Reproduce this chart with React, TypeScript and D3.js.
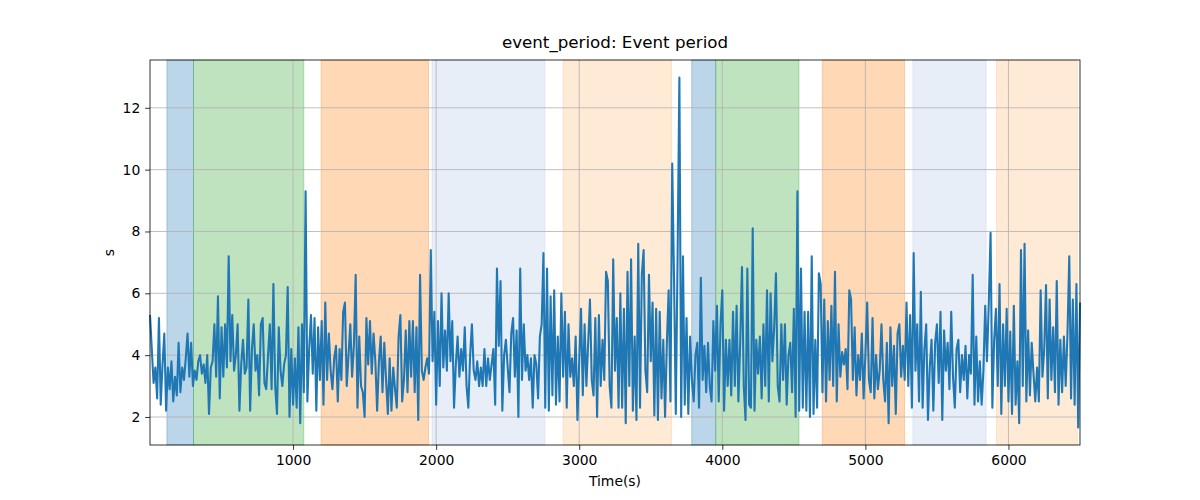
// @ts-nocheck
import * as d3 from "d3";
import React, { useRef, useEffect } from "react";

// seconds between consecutive samples
const sampleStep = 12.5;

// event period (s) in ~700 s chunks
const periodChunk1 = [5.3, 4.2, 3.1, 3.6, 2.6, 5.2, 2.4, 3.7, 4.7, 2.2, 3.6, 2.9, 3.8, 2.5, 3.3, 2.7, 4.4, 2.8, 3.6, 3.2, 3.9, 4.7, 3.3, 4.4, 3.0, 3.5, 3.2, 3.8, 4.0, 3.4, 3.7, 3.1, 4.0, 2.1, 3.6, 3.8, 5.0, 3.3, 5.9, 2.6, 4.9, 3.3, 5.0, 3.6, 7.2, 3.8, 5.3, 3.5, 4.0, 5.0, 2.2, 3.7, 4.5, 3.4, 3.6, 5.8, 2.2, 4.2];
const periodChunk2 = [5.0, 3.5, 4.0, 2.7, 5.0, 5.2, 3.1, 2.9, 4.0, 5.0, 2.9, 6.3, 3.0, 2.1, 4.9, 3.5, 3.0, 3.7, 4.0, 6.2, 2.0, 4.2, 2.4, 3.9, 2.3, 4.9, 1.8, 5.0, 2.8, 9.3, 2.5, 4.2, 5.3, 3.4, 5.2, 2.2, 4.9, 3.2, 5.1, 2.4, 5.7, 3.2, 4.7, 3.5, 2.9, 3.9, 4.3, 2.5, 4.2, 3.2, 5.4, 5.7, 3.0, 4.0, 5.0, 3.3, 4.3, 6.6];
const periodChunk3 = [2.3, 4.6, 3.0, 2.8, 2.0, 5.2, 3.7, 5.1, 3.4, 4.7, 3.8, 2.2, 3.8, 4.6, 2.8, 4.4, 3.2, 2.1, 3.9, 2.2, 3.6, 2.9, 2.3, 4.6, 5.3, 2.5, 3.2, 4.8, 2.8, 5.1, 3.3, 5.1, 2.8, 4.9, 1.9, 6.6, 3.5, 3.2, 3.6, 3.9, 3.4, 7.4, 3.8, 5.4, 2.4, 5.1, 3.0, 6.0, 3.6, 4.8, 3.5, 6.0, 3.8, 5.1, 2.3, 3.7, 4.6, 3.3];
const periodChunk4 = [4.2, 3.5, 4.9, 3.0, 2.3, 4.0, 5.0, 3.5, 3.2, 3.8, 3.0, 3.6, 3.0, 4.2, 3.0, 3.9, 3.2, 3.7, 4.2, 2.4, 6.8, 4.3, 6.4, 2.2, 4.0, 4.5, 3.6, 2.8, 4.7, 5.2, 3.3, 4.8, 2.0, 6.8, 3.2, 5.0, 3.5, 4.0, 3.2, 3.9, 2.3, 4.0, 3.7, 2.6, 4.6, 5.0, 7.3, 2.3, 6.8, 2.2, 5.9, 2.7, 6.1, 2.4, 4.6, 2.5, 6.0, 3.3];
const periodChunk5 = [5.4, 2.3, 5.0, 3.3, 3.9, 3.0, 4.6, 1.9, 3.8, 5.5, 2.7, 5.0, 3.0, 4.4, 5.8, 3.2, 2.7, 5.2, 2.0, 5.3, 3.0, 4.5, 3.2, 6.7, 6.4, 3.0, 2.3, 7.1, 3.5, 5.2, 2.3, 6.0, 2.3, 5.5, 1.8, 6.7, 3.0, 7.1, 2.2, 4.6, 1.9, 7.6, 2.3, 6.6, 7.4, 3.5, 2.8, 6.6, 3.8, 5.7, 2.05, 5.5, 1.9, 5.4, 2.6, 4.5, 2.0, 4.4];
const periodChunk6 = [6.1, 2.5, 10.2, 6.5, 2.1, 7.2, 12.98, 2.0, 7.2, 2.4, 5.2, 2.1, 4.6, 3.2, 2.5, 4.0, 4.4, 2.3, 6.5, 3.2, 4.3, 2.8, 4.4, 3.0, 2.5, 5.1, 3.5, 5.6, 2.5, 5.0, 6.1, 2.2, 4.5, 3.0, 4.5, 2.7, 5.4, 3.0, 5.6, 2.5, 4.4, 6.85, 3.0, 1.9, 6.8, 2.4, 2.3, 8.1, 2.2, 4.5, 3.4, 4.6, 2.6, 5.0, 3.0, 6.1, 2.5, 6.0];
const periodChunk7 = [3.8, 4.9, 6.65, 3.0, 2.5, 5.0, 3.2, 5.0, 2.4, 4.0, 4.4, 2.8, 5.5, 2.0, 9.3, 2.2, 6.8, 2.3, 5.4, 2.2, 5.4, 2.0, 7.2, 2.1, 4.5, 2.3, 6.65, 6.3, 2.8, 5.8, 2.5, 5.1, 3.2, 5.6, 3.0, 6.7, 2.5, 5.0, 3.3, 4.1, 3.7, 4.2, 2.9, 6.1, 5.8, 3.2, 4.9, 2.7, 4.0, 3.2, 4.7, 2.6, 4.0, 5.7, 3.2, 2.8, 5.2, 2.6];
const periodChunk8 = [4.0, 2.9, 3.5, 5.0, 3.2, 2.5, 4.4, 1.8, 4.9, 3.0, 4.3, 2.1, 4.7, 5.0, 3.3, 4.3, 3.2, 5.7, 3.0, 5.3, 2.3, 7.3, 3.5, 5.0, 2.5, 6.05, 2.3, 4.2, 5.0, 1.9, 3.6, 4.5, 2.2, 4.4, 5.0, 3.1, 5.4, 1.9, 4.8, 3.5, 4.4, 2.9, 5.4, 3.3, 2.3, 4.2, 4.5, 2.8, 4.0, 3.2, 4.3, 2.6, 4.0, 3.4, 6.6, 2.4, 4.6, 2.5];
const periodChunk9 = [3.8, 2.4, 3.5, 5.6, 3.8, 5.7, 7.96, 2.3, 4.5, 5.5, 3.0, 6.3, 2.1, 5.0, 3.0, 5.5, 2.5, 4.76, 2.1, 5.6, 2.4, 3.8, 1.8, 7.4, 3.0, 7.6, 2.5, 4.8, 2.7, 4.4, 3.4, 2.5, 3.6, 2.5, 6.1, 3.3, 4.2, 6.27, 2.6, 5.8, 3.2, 4.9, 2.8, 6.4, 2.4, 4.5, 2.8, 4.6, 3.0, 4.7, 7.2, 2.6, 5.8, 2.4, 6.3, 1.66, 5.7];

const eventPeriod = [
  ...periodChunk1, ...periodChunk2, ...periodChunk3,
  ...periodChunk4, ...periodChunk5, ...periodChunk6,
  ...periodChunk7, ...periodChunk8, ...periodChunk9,
];

// shaded phases
const spanStart = [118, 304, 1196, 1971, 2888, 3786, 3954, 4699, 5332, 5916];
const spanEnd = [304, 1075, 1947, 2760, 3645, 3954, 4536, 5274, 5844, 6481];
const spanColor = ["#1f77b4", "#2ca02c", "#ff7f0e", "#aec7e8", "#ffbb78", "#1f77b4", "#2ca02c", "#ff7f0e", "#aec7e8", "#ffbb78"];

const xTicks = [1000, 2000, 3000, 4000, 5000, 6000];
const yTicks = [2, 4, 6, 8, 10, 12];

export default function App() {
  const svgRef = useRef<SVGSVGElement | null>(null);

  useEffect(() => {
    const width = 1200;
    const height = 500;
    const margin = { top: 60, right: 120, bottom: 55, left: 150 };
    const chartW = width - margin.left - margin.right;
    const chartH = height - margin.top - margin.bottom;
    const font = "DejaVu Sans, sans-serif";

    const svg = d3.select(svgRef.current).attr("width", width).attr("height", height);
    svg.selectAll("*").remove();
    svg.append("rect").attr("width", width).attr("height", height).attr("fill", "#fff");

    const g = svg.append("g").attr("transform", `translate(${margin.left},${margin.top})`);

    const data = eventPeriod.map((v, i) => ({ t: i * sampleStep, v }));

    const x = d3.scaleLinear().domain(d3.extent(data, d => d.t)).range([0, chartW]);
    const [lo, hi] = d3.extent(data, d => d.v);
    const pad = (hi - lo) * 0.05;
    const y = d3.scaleLinear().domain([lo - pad, hi + pad]).range([chartH, 0]);

    // phase spans
    g.selectAll("rect.span")
      .data(spanStart.map((s, i) => ({ s, e: spanEnd[i], c: spanColor[i] })))
      .join("rect")
      .attr("class", "span")
      .attr("x", d => x(d.s))
      .attr("width", d => x(d.e) - x(d.s))
      .attr("y", 0)
      .attr("height", chartH)
      .attr("fill", d => d.c)
      .attr("fill-opacity", 0.3)
      .attr("stroke", d => d.c)
      .attr("stroke-opacity", 0.3);

    // grid
    g.selectAll("line.gx").data(xTicks).join("line")
      .attr("x1", d => x(d)).attr("x2", d => x(d))
      .attr("y1", 0).attr("y2", chartH)
      .attr("stroke", "#b0b0b0").attr("stroke-width", 0.8);
    g.selectAll("line.gy").data(yTicks).join("line")
      .attr("y1", d => y(d)).attr("y2", d => y(d))
      .attr("x1", 0).attr("x2", chartW)
      .attr("stroke", "#b0b0b0").attr("stroke-width", 0.8);

    const line = d3.line<{ t: number; v: number }>()
      .x(d => x(d.t))
      .y(d => y(d.v));

    g.append("path")
      .datum(data)
      .attr("fill", "none")
      .attr("stroke", "#1f77b4")
      .attr("stroke-width", 2.08)
      .attr("stroke-linejoin", "round")
      .attr("d", line);

    // axes
    const xAxis = g.append("g")
      .attr("transform", `translate(0,${chartH})`)
      .call(d3.axisBottom(x).tickValues(xTicks).tickFormat(d3.format("d")).tickSize(4.86).tickPadding(4.86).tickSizeOuter(0));
    const yAxis = g.append("g")
      .call(d3.axisLeft(y).tickValues(yTicks).tickFormat(d3.format("d")).tickSize(4.86).tickPadding(4.86).tickSizeOuter(0));

    [xAxis, yAxis].forEach(a => {
      a.select(".domain").remove();
      a.selectAll("line").attr("stroke", "#000").attr("stroke-width", 0.8);
      a.selectAll("text").attr("fill", "#000").attr("font-family", font).attr("font-size", 13.9);
    });
    xAxis.selectAll("text").attr("dy", "0.76em");

    // spines
    g.append("rect")
      .attr("width", chartW).attr("height", chartH)
      .attr("fill", "none").attr("stroke", "#000").attr("stroke-width", 0.8);

    svg.append("text")
      .attr("x", margin.left + chartW / 2).attr("y", 48)
      .attr("text-anchor", "middle")
      .attr("font-family", font).attr("font-size", 16.7)
      .text("event_period: Event period");

    svg.append("text")
      .attr("x", margin.left + chartW / 2).attr("y", 486)
      .attr("text-anchor", "middle")
      .attr("font-family", font).attr("font-size", 13.9)
      .text("Time(s)");

    svg.append("text")
      .attr("transform", `translate(114,${margin.top + chartH / 2}) rotate(-90)`)
      .attr("text-anchor", "middle")
      .attr("font-family", font).attr("font-size", 13.9)
      .text("s");
  }, []);

  return <svg ref={svgRef} style={{ position: "absolute", left: 0, top: 0 }} />;
}
